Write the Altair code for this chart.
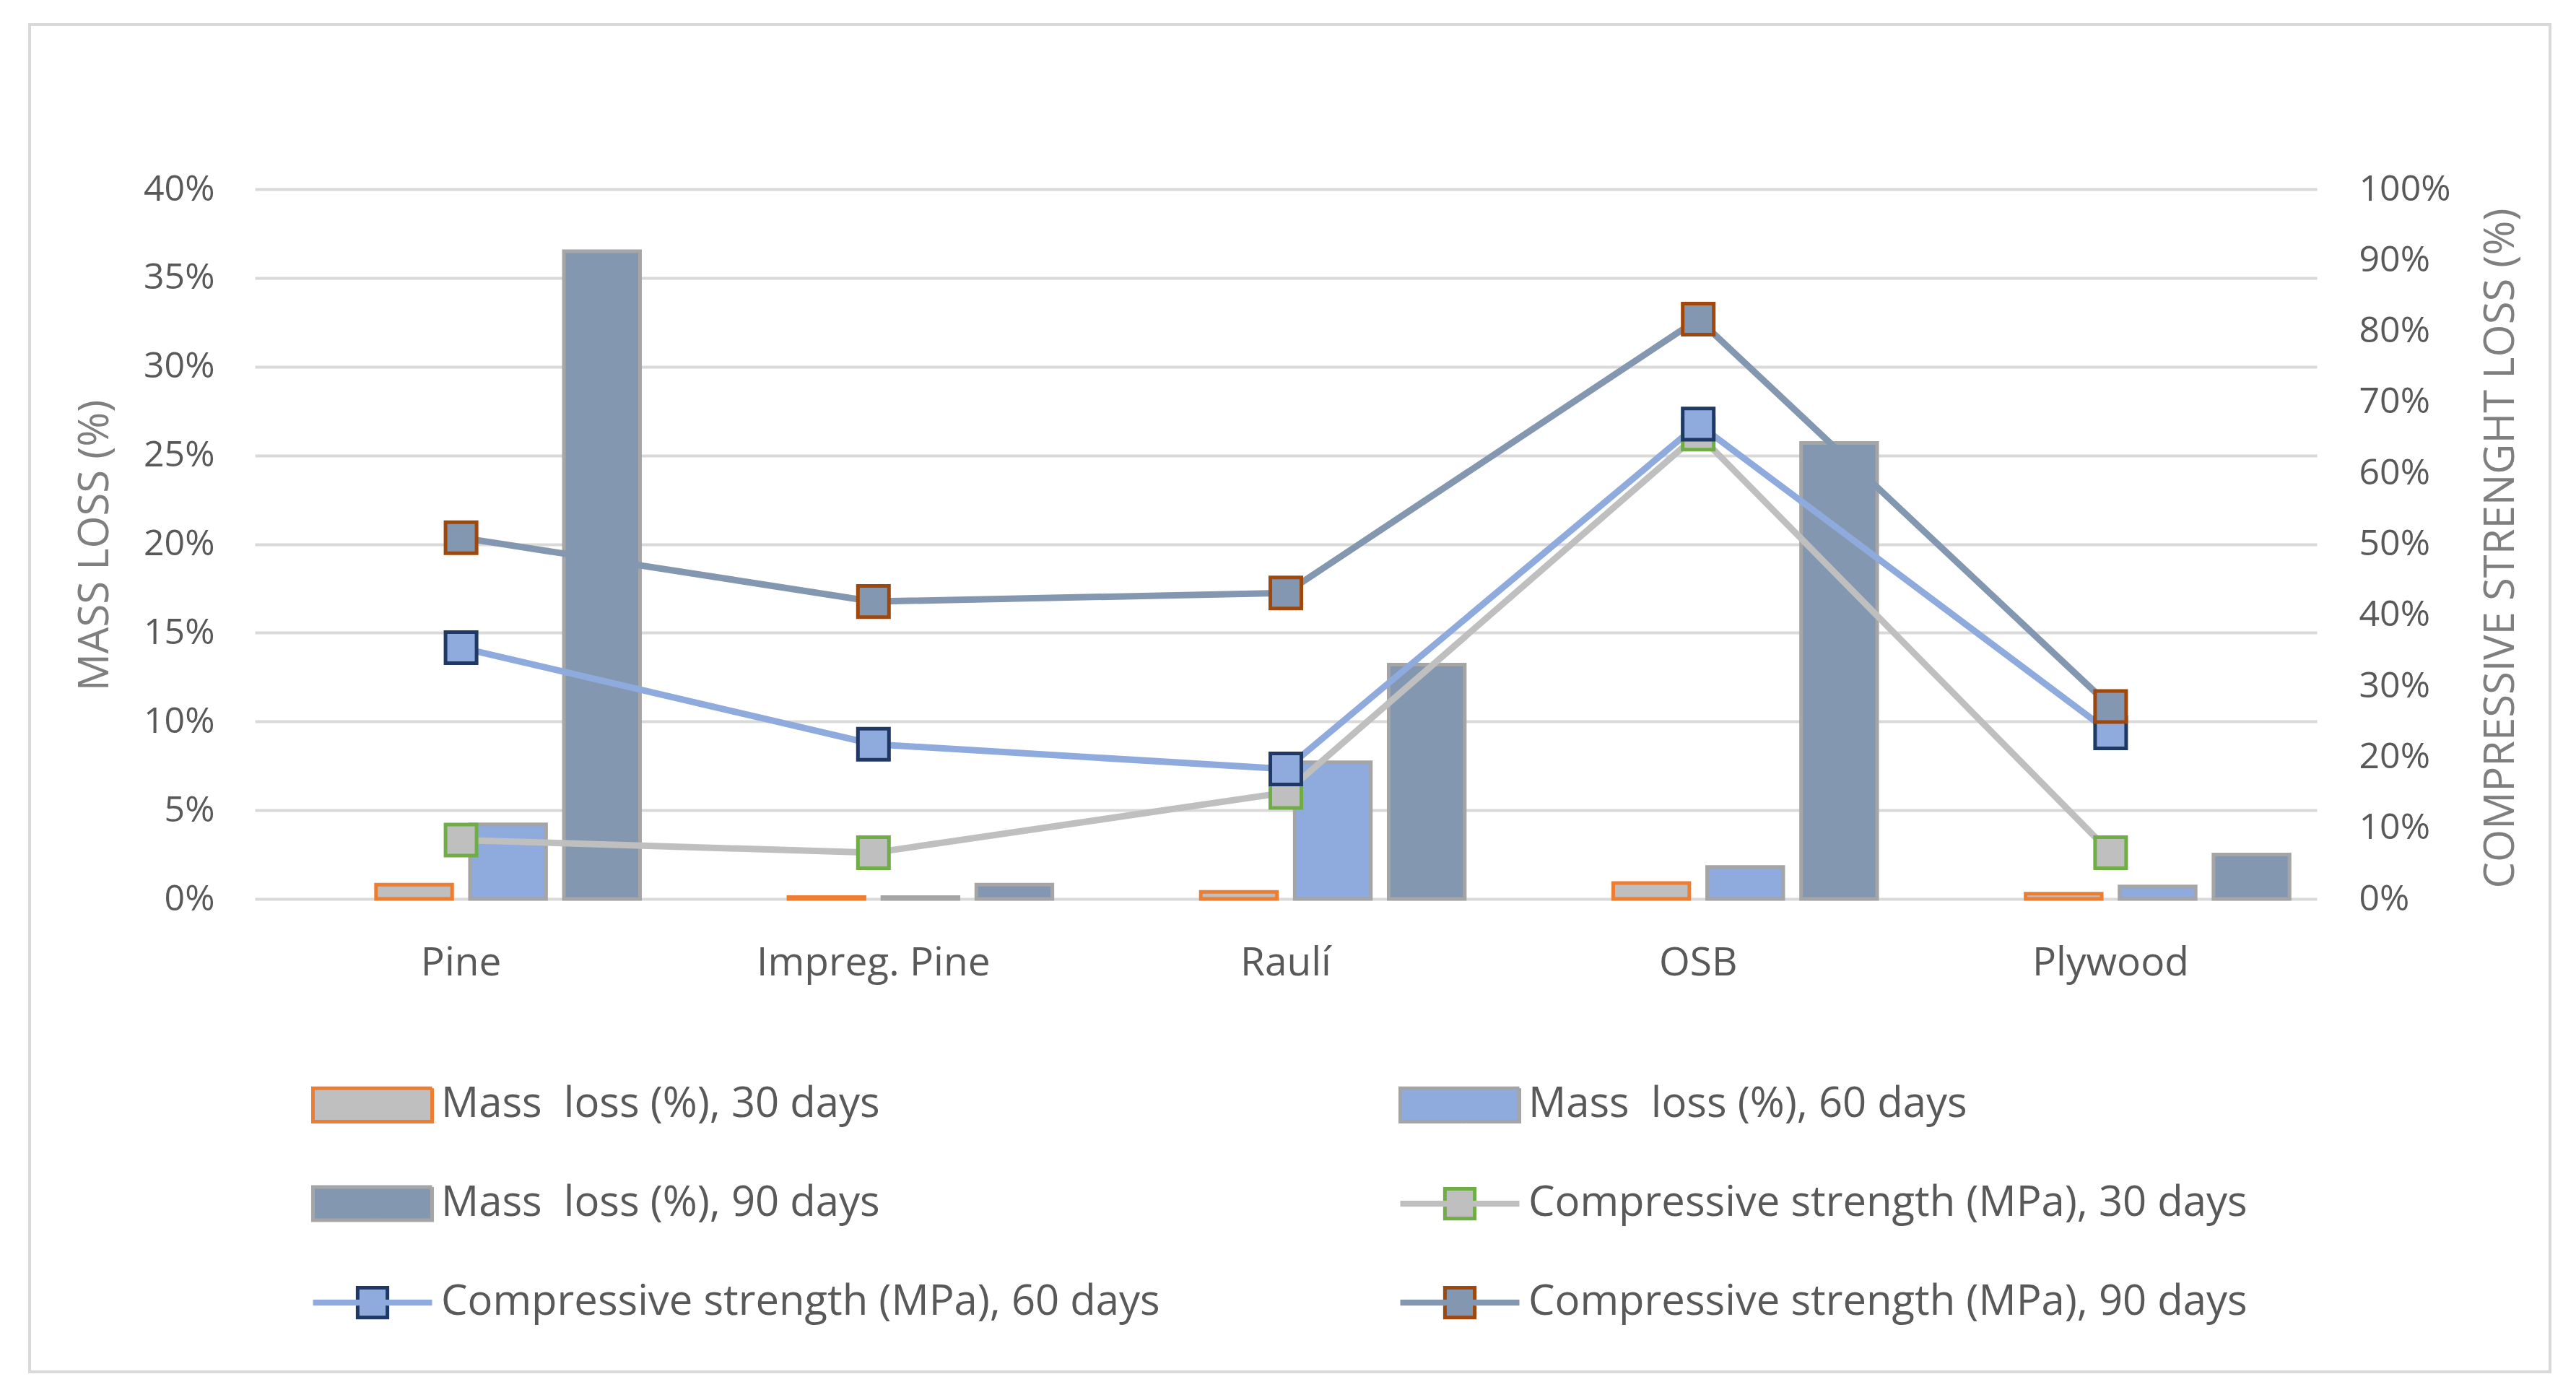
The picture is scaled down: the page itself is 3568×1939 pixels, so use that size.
import altair as alt
import pandas as pd

categories = ["Pine", "Impreg. Pine", "Raulí", "OSB", "Plywood"]

mass_30 = [0.008, 0.001, 0.004, 0.009, 0.003]
mass_60 = [0.042, 0.001, 0.077, 0.018, 0.007]
mass_90 = [0.365, 0.008, 0.132, 0.257, 0.025]
cs_30 = [0.083, 0.065, 0.150, 0.655, 0.065]
cs_60 = [0.354, 0.218, 0.183, 0.669, 0.234]
cs_90 = [0.509, 0.419, 0.431, 0.817, 0.271]

series_names = [
    "Mass\u00a0\u00a0loss (%), 30 days",
    "Mass\u00a0\u00a0loss (%), 60 days",
    "Mass\u00a0\u00a0loss (%), 90 days",
    "Compressive strength (MPa), 30 days",
    "Compressive strength (MPa), 60 days",
    "Compressive strength (MPa), 90 days",
]
fill_colors = ["#BFBFBF", "#8FAADC", "#8497B0", "#BFBFBF", "#8FAADC", "#8497B0"]
stroke_colors = ["#ED7D31", "#A5A5A5", "#A5A5A5", "#70AD47", "#203864", "#9E480E"]
line_colors = ["#BFBFBF", "#8FAADC", "#8497B0"]

FONT = "Open Sans"
W, H = 2856, 983

mass_df = pd.DataFrame(
    [(c, series_names[i], v)
     for i, vals in enumerate([mass_30, mass_60, mass_90])
     for c, v in zip(categories, vals)],
    columns=["category", "series", "value"],
)
cs_df = pd.DataFrame(
    [(c, series_names[3 + i], v)
     for i, vals in enumerate([cs_30, cs_60, cs_90])
     for c, v in zip(categories, vals)],
    columns=["category", "series", "value"],
)

# legend symbol shapes (unit coords, scaled by sqrt(size)/2)
bar_path = "M-1,-0.28L1,-0.28L1,0.28L-1,0.28Z"
line_path = ("M-0.25,-0.05L-0.25,-0.25L0.25,-0.25L0.25,-0.05"
             "L1,-0.05L1,0.05L0.25,0.05L0.25,0.25L-0.25,0.25L-0.25,0.05"
             "L-1,0.05L-1,-0.05Z")
SYM = 165
u = SYM / 2.0
on = (0.2 + 0.5 + 0.2) * u
off = (0.75 + 0.1 + 0.75) * u
dash_solid = [1, 0]
dash_line = [on, off, on, off]
shape_range = [bar_path] * 3 + [line_path] * 3
dash_range = [dash_solid] * 3 + [dash_line] * 3

leg = alt.Legend(
    title=None, orient="none", legendX=78, legendY=1183, columns=2,
    direction="horizontal",
    symbolSize=SYM * SYM, symbolStrokeWidth=5, labelFont=FONT, labelFontSize=58,
    labelColor="#595959", labelOffset=10, rowPadding=18, columnPadding=322,
    labelLimit=3000,
)

fill_scale = alt.Scale(domain=series_names, range=fill_colors)
stroke_scale = alt.Scale(domain=series_names, range=stroke_colors)
shape_scale = alt.Scale(domain=series_names, range=shape_range)
dash_scale = alt.Scale(domain=series_names, range=dash_range)

x_scale = alt.Scale(domain=categories, paddingInner=0, paddingOuter=0)
x_axis = alt.Axis(
    title=None, labelFont=FONT, labelFontSize=55, labelColor="#595959",
    labelPadding=62, labelLimit=1000, domain=False, ticks=False, grid=False,
    labelAngle=0,
)
left_axis = alt.Axis(
    title="MASS LOSS (%)", format=".0%", values=[i * 0.05 for i in range(9)],
    labelFont=FONT, labelFontSize=50, labelColor="#595959", labelPadding=56,
    domain=False, ticks=False, grid=True, gridColor="#D9D9D9", gridWidth=4,
    titleFont=FONT, titleFontSize=58, titleColor="#7F7F7F", titleFontWeight="normal",
    titleX=-221, titleY=493, titleAngle=-90, titleAlign="center", titleBaseline="middle",
)
right_axis = alt.Axis(
    title="COMPRESSIVE STRENGHT LOSS (%)", orient="right", format=".0%",
    values=[i * 0.1 for i in range(11)],
    labelFont=FONT, labelFontSize=50, labelColor="#595959", labelPadding=58,
    domain=False, ticks=False, grid=False,
    titleFont=FONT, titleFontSize=58, titleColor="#7F7F7F", titleFontWeight="normal",
    titleX=255, titleY=497, titleAngle=-90, titleAlign="center", titleBaseline="middle",
)

X = alt.X("category:N", sort=categories, scale=x_scale, axis=x_axis)

bars = alt.Chart(mass_df).mark_bar(strokeWidth=5).encode(
    x=X,
    xOffset=alt.XOffset(
        "series:N",
        scale=alt.Scale(domain=["_"] + series_names[:3], paddingInner=0.19, paddingOuter=0.29),
    ),
    y=alt.Y("value:Q", scale=alt.Scale(domain=[0, 0.4]), axis=left_axis),
    fill=alt.Fill("series:N", scale=fill_scale, legend=leg),
    stroke=alt.Stroke("series:N", scale=stroke_scale, legend=leg),
)

right_y_scale = alt.Scale(domain=[0, 1])
YR = alt.Y("value:Q", scale=right_y_scale, axis=right_axis)


def line_layer(i):
    return alt.Chart(cs_df).transform_filter(
        alt.datum.series == series_names[3 + i]
    ).mark_line(strokeWidth=9, color=line_colors[i]).encode(x=X, y=YR)


points = alt.Chart(cs_df).mark_point(
    shape="square", filled=True, size=1850, strokeWidth=5, opacity=1
).encode(
    x=X, y=YR,
    fill=alt.Fill("series:N", scale=fill_scale, legend=leg),
    stroke=alt.Stroke("series:N", scale=stroke_scale, legend=leg),
)

carrier = alt.Chart(cs_df).transform_filter("false").mark_point(
    filled=True, opacity=1
).encode(
    x=X, y=YR,
    fill=alt.Fill("series:N", scale=fill_scale, legend=leg),
    stroke=alt.Stroke("series:N", scale=stroke_scale, legend=leg),
    shape=alt.Shape("series:N", scale=shape_scale, legend=leg),
    strokeDash=alt.StrokeDash("series:N", scale=dash_scale, legend=leg),
)

right_layer = alt.layer(line_layer(0), line_layer(1), line_layer(2), points, carrier)

frame = alt.Chart(alt.Data(values=[{}])).mark_rect(
    fill="transparent", stroke="#D9D9D9", strokeWidth=4
).encode(
    x=alt.value(-312), x2=alt.value(3179), y=alt.value(-228), y2=alt.value(1638)
)

chart = alt.layer(frame, bars, right_layer).resolve_scale(y="independent").properties(
    width=W, height=H,
    autosize=alt.AutoSizeParams(type="none"),
    padding={"left": 345, "top": 254, "right": 345, "bottom": 672},
    background="white",
).configure_view(stroke=None)

chart.save("out.html", embed_options={"renderer": "svg", "actions": False})
